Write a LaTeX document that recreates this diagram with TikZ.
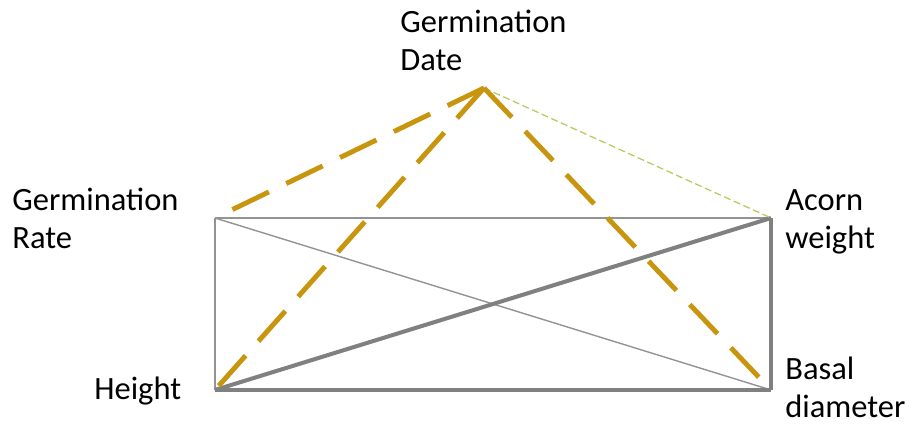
\documentclass[tikz,border=0pt]{standalone}
\usepackage{fontspec}
\setmainfont{Carlito}
\usetikzlibrary{positioning}
\definecolor{gold}{RGB}{199,150,14}
\definecolor{edgegray}{RGB}{128,128,128}
\definecolor{paleolive}{RGB}{185,200,90}
\tikzset{
  varlbl/.style={font=\fontsize{18.5}{22}\selectfont,align=left,inner sep=0pt,anchor=base west},
  thinedge/.style={draw=edgegray!85,line width=0.8pt},
  thickedge/.style={draw=edgegray,line width=2.3pt},
  goldedge/.style={draw=gold,line width=2.8pt,dash pattern=on 23pt off 11pt},
  weakedge/.style={draw=paleolive,line width=0.7pt,dash pattern=on 4pt off 2pt},
}

\begin{document}
\begin{tikzpicture}[x=0.02cm,y=-0.02cm]
  \useasboundingbox (0,0) rectangle (910,428);
  % vertices
  \coordinate (date) at (484,88);
  \coordinate (rate) at (215,218);
  \coordinate (weight) at (771,218);
  \coordinate (height) at (215,390);
  \coordinate (basal) at (771,390);
  % labels (base = last line)
  \node[varlbl] (datelbl) at (400,71) {Germination\\Date};
  \node[varlbl] (ratelbl) at (12,249) {Germination\\Rate};
  \node[varlbl] (heightlbl) at (94,400) {Height};
  \node[varlbl] (weightlbl) at (785,249) {Acorn\\weight};
  \node[varlbl] (basallbl) at (785,418) {Basal\\diameter};
  % rectangle and diagonals
  \draw[thinedge] (rate) -- (weight);
  \draw[thinedge] (rate) -- (height);
  \draw[thinedge] (rate) -- (basal);
  \draw[thickedge] (height) -- (basal);
  \draw[thickedge] (weight) -- (basal);
  \draw[thickedge] (height) -- (weight);
  % germination date links
  \draw[weakedge] (date) -- (weight);
  \draw[goldedge,shorten >=0.32cm] (date) -- (rate);
  \draw[goldedge] (date) -- (height);
  \draw[goldedge,shorten >=0.24cm] (date) -- (basal);
\end{tikzpicture}
\end{document}
